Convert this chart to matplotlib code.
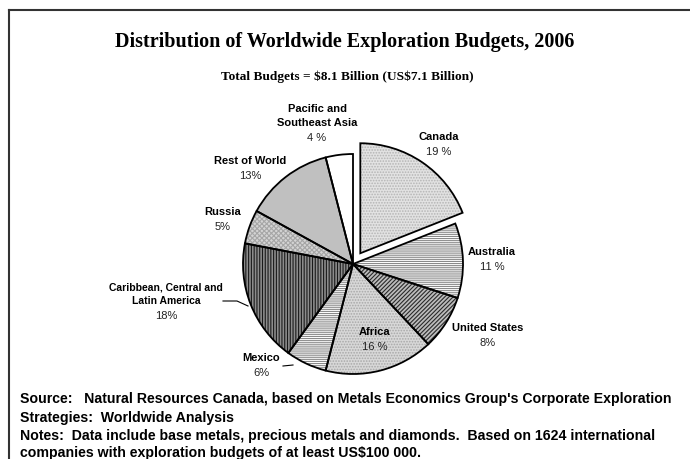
import matplotlib
matplotlib.use('Agg')
from matplotlib import pyplot as plt

W, H = 690, 460

regions = ['Canada', 'Australia', 'United States', 'Africa', 'Mexico',
           'Caribbean, Central and\nLatin America', 'Russia', 'Rest of World',
           'Pacific and\nSoutheast Asia']
shares = [19, 11, 8, 16, 6, 18, 5, 13, 4]
pct_text = ['19 %', '11 %', '8%', '16 %', '6%', '18%', '5%', '13%', '4 %']

title = 'Distribution of Worldwide Exploration Budgets, 2006'
subtitle = r'Total Budgets = \$8.1 Billion (US\$7.1 Billion)'
notes = [r"Source:   Natural Resources Canada, based on Metals Economics Group's Corporate Exploration",
         r"Strategies:  Worldwide Analysis",
         r"Notes:  Data include base metals, precious metals and diamonds.  Based on 1624 international",
         r"companies with exploration budgets of at least US\$100 000."]

# fill, hatch colour, hatch for each slice
faces = ['#e2e2e2', 'white', '#bcbcbc', '#d8d8d8', 'white', '#8c8c8c', '#d4d4d4', '#c0c0c0', 'white']
hcols = ['#b4b4b4', '#8a8a8a', '#2a2a2a', '#a8a8a8', '#8a8a8a', '#1a1a1a', '#a6a6a6', '#c0c0c0', 'white']
hatches = ['......', '--------', '////////', '......', '--------', '||||||', 'xxxxxxx', '', '']

# label anchor (pixels, centre of the name block)
lab_xy = [(439, 137), (492, 252), (488, 328), (375, 332), (261, 358),
          (166, 294), (223, 212), (250, 161), (317, 116)]

plt.rcParams['hatch.linewidth'] = 0.8

fig = plt.figure(figsize=(6.9, 4.6), dpi=100)
ax = fig.add_axes([0, 0, 1, 1])

cx, cy, r = 353, H - 265, 110
explode = [13, 0, 0, 0, 0, 0, 0, 0, 0]

wedges, _ = ax.pie(shares, startangle=90, counterclock=False, center=(cx, cy),
                   radius=r, explode=explode, frame=True)
for w, fc, hc, ht in zip(wedges, faces, hcols, hatches):
    w.set_facecolor(fc)
    w.set_edgecolor(hc)
    w.set_linewidth(0)
    w.set_hatch(ht)

outline, _ = ax.pie(shares, startangle=90, counterclock=False, center=(cx, cy),
                    radius=r, explode=explode, frame=True,
                    wedgeprops=dict(fill=False, edgecolor='black', linewidth=1.3))

ax.set_xlim(0, W)
ax.set_ylim(0, H)
ax.set_aspect('auto')
ax.axis('off')

# frame lines of the original graphic
ax.plot([9, 9], [H - 11, 0], color='#333333', lw=1.5)
ax.plot([9, W], [H - 11, H - 11], color='#333333', lw=1.5)

ax.text(345, H - 42, title, ha='center', va='center', fontsize=14.5,
        fontweight='bold', family='Liberation Serif')
ax.text(347, H - 77, subtitle, ha='center', va='center', fontsize=9.6,
        fontweight='bold', family='Liberation Serif')

for name, pct, (lx, ly) in zip(regions, pct_text, lab_xy):
    nlines = name.count('\n') + 1
    fs = 7.5 if name.startswith('Caribbean') else 8
    step = 14
    top = ly - (nlines - 1) * step / 2
    for i, part in enumerate(name.split('\n')):
        ax.text(lx, H - (top + i * step), part, ha='center', va='center',
                fontsize=fs, fontweight='bold', family='Liberation Sans')
    ax.text(lx, H - (top + nlines * step + 1), pct, ha='center', va='center',
            fontsize=8, family='Liberation Sans', color='#222222')

# leader lines
ax.plot([223, 237, 248], [H - 302, H - 302, H - 307], color='black', lw=0.8)
ax.plot([283, 293], [H - 367, H - 366], color='black', lw=0.8)

note_y = [399, 418, 436, 453]
for line, y in zip(notes, note_y):
    ax.text(20, H - y, line, ha='left', va='center', fontsize=10.2,
            fontweight='bold', family='Liberation Sans')

fig.savefig('out.png', dpi=100)
